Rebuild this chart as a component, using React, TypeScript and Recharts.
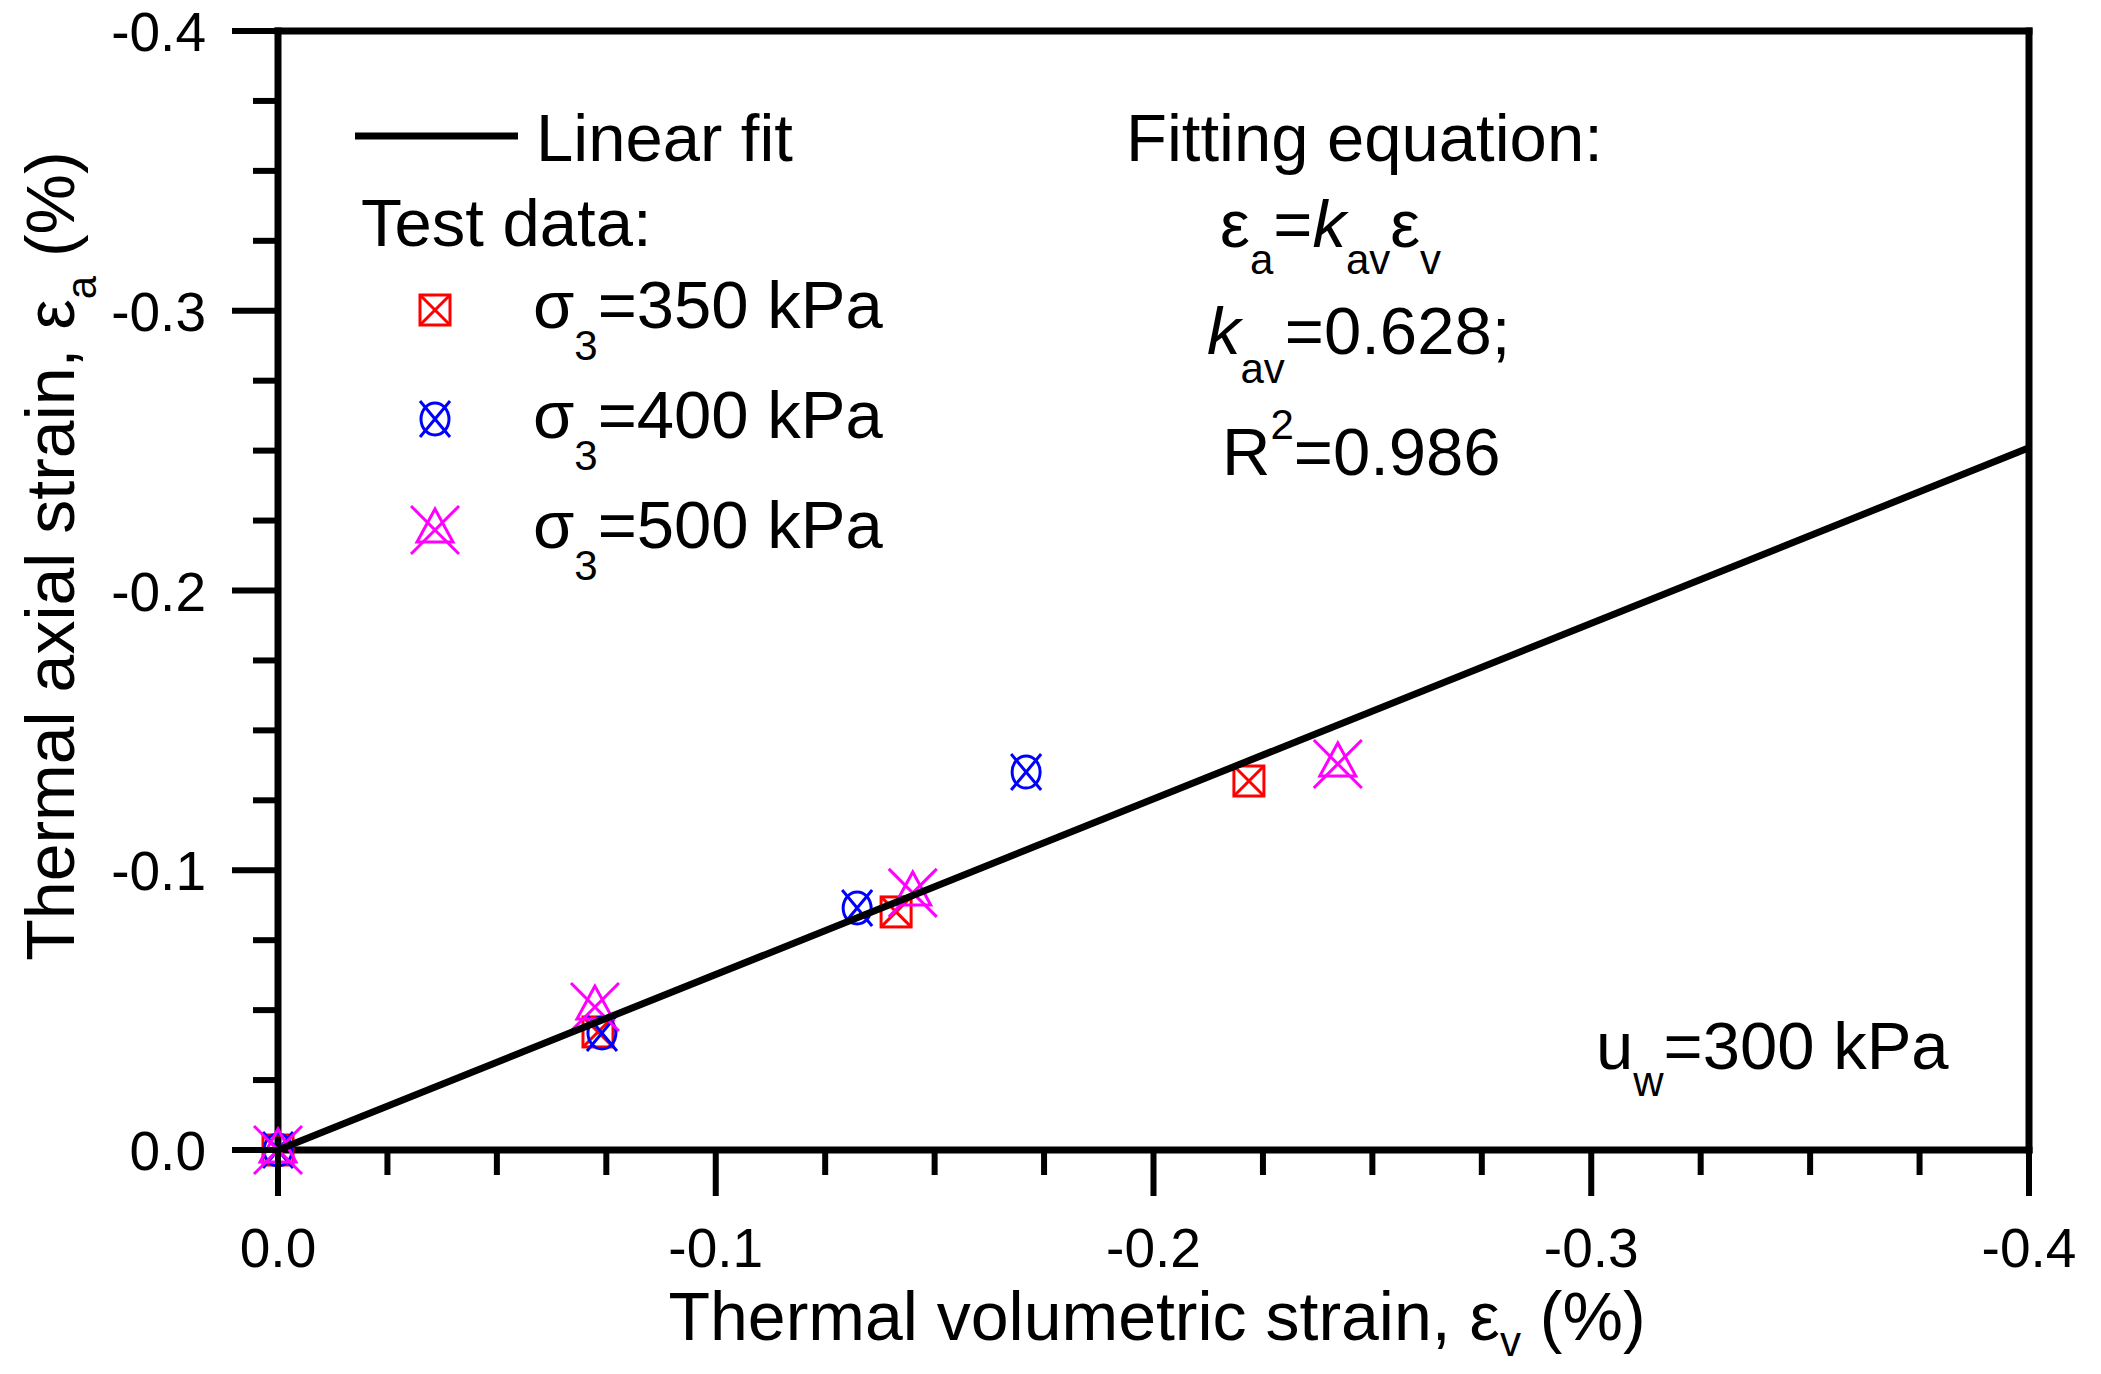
import { ScatterChart, Scatter, XAxis, YAxis } from 'recharts'

const FONT = '"Liberation Sans", Arial, Helvetica, sans-serif'

// axis ticks (every 0.025, labelled every 0.1)
const axisTicks = [0, -0.025, -0.05, -0.075, -0.1, -0.125, -0.15, -0.175, -0.2, -0.225, -0.25, -0.275, -0.3, -0.325, -0.35, -0.375, -0.4]
const tickLabels = ['0.0', '-0.1', '-0.2', '-0.3', '-0.4']

// test data: thermal volumetric strain (x) vs thermal axial strain (y), %
const ev350 = [0, -0.0731, -0.1412, -0.2218]
const ea350 = [0, -0.0422, -0.0851, -0.1319]
const ev400 = [0, -0.074, -0.1323, -0.1709]
const ea400 = [0, -0.0418, -0.0865, -0.1351]
const ev500 = [0, -0.0724, -0.145, -0.2421]
const ea500 = [0, -0.0511, -0.0919, -0.138]

// linear fit ends
const fitEv = [0, -0.4]
const fitEa = [0, -0.251]

function toPoints(xs: number[], ys: number[]) {
  return xs.map(function (x, i) {
    return { x: x, y: ys[i] }
  })
}

const MAJOR = 46
const MINOR = 25
const TICK_W = 6
const TICK_FONT = 55

function isMajor(v: number) {
  return Math.abs(v * 10 - Math.round(v * 10)) < 1e-6
}

function labelFor(v: number) {
  return tickLabels[Math.round(Math.abs(v) * 10)]
}

function BottomTick(props: any) {
  const { x, y, payload } = props
  const major = isMajor(payload.value)
  return (
    <g>
      <line x1={x} x2={x} y1={y} y2={y + (major ? MAJOR : MINOR)} stroke="#000" strokeWidth={TICK_W} />
      {major && (
        <text x={x} y={y + 117} textAnchor="middle" fontSize={TICK_FONT} fontFamily={FONT} fill="#000">
          {labelFor(payload.value)}
        </text>
      )}
    </g>
  )
}

function TopTick(props: any) {
  const { x, y, payload } = props
  const major = isMajor(payload.value)
  return <line x1={x} x2={x} y1={y} y2={y + (major ? MAJOR : MINOR)} stroke="#000" strokeWidth={TICK_W} />
}

function LeftTick(props: any) {
  const { x, y, payload } = props
  const major = isMajor(payload.value)
  return (
    <g>
      <line x1={x} x2={x - (major ? MAJOR : MINOR)} y1={y} y2={y} stroke="#000" strokeWidth={TICK_W} />
      {major && (
        <text x={x - 72} y={y + 20} textAnchor="end" fontSize={TICK_FONT} fontFamily={FONT} fill="#000">
          {labelFor(payload.value)}
        </text>
      )}
    </g>
  )
}

function RightTick(props: any) {
  const { x, y, payload } = props
  const major = isMajor(payload.value)
  return <line x1={x} x2={x - (major ? MAJOR : MINOR)} y1={y} y2={y} stroke="#000" strokeWidth={TICK_W} />
}

function SquareX(props: any) {
  const { cx, cy } = props
  const h = 15
  return (
    <g stroke="#ff0000" strokeWidth={3} fill="none">
      <rect x={cx - h} y={cy - h} width={h * 2} height={h * 2} />
      <line x1={cx - h} y1={cy - h} x2={cx + h} y2={cy + h} />
      <line x1={cx + h} y1={cy - h} x2={cx - h} y2={cy + h} />
    </g>
  )
}

function CircleX(props: any) {
  const { cx, cy } = props
  return (
    <g stroke="#0000ff" strokeWidth={3} fill="none">
      <ellipse cx={cx} cy={cy} rx={14} ry={16} />
      <line x1={cx - 15} y1={cy - 18} x2={cx + 15} y2={cy + 18} />
      <line x1={cx + 15} y1={cy - 18} x2={cx - 15} y2={cy + 18} />
    </g>
  )
}

function TriangleX(props: any) {
  const { cx, cy } = props
  return (
    <g stroke="#ff00ff" strokeWidth={3} fill="none">
      <polygon points={`${cx},${cy - 21} ${cx - 18},${cy + 12} ${cx + 18},${cy + 12}`} />
      <line x1={cx - 24} y1={cy - 24} x2={cx + 24} y2={cy + 24} />
      <line x1={cx + 24} y1={cy - 24} x2={cx - 24} y2={cy + 24} />
    </g>
  )
}

const axisLine = { stroke: '#000', strokeWidth: 7, strokeLinecap: 'square' as const }
const TXT = 67
const SUB = 42

function Overlay() {
  return (
    <svg width={2101} height={1374} style={{ position: 'absolute', left: 0, top: 0, pointerEvents: 'none' }}
      fontFamily={FONT} fill="#000">
      {/* legend */}
      <line x1={355} x2={518} y1={136} y2={136} stroke="#000" strokeWidth={7} />
      <text x={536} y={161} fontSize={TXT}>Linear fit</text>
      <text x={361} y={246} fontSize={TXT}>Test data:</text>
      <SquareX cx={435} cy={310} />
      <CircleX cx={435} cy={419} />
      <TriangleX cx={435} cy={530} />
      <text x={533} y={328} fontSize={TXT}>σ<tspan fontSize={SUB} dy={32}>3</tspan><tspan dy={-32}>=350 kPa</tspan></text>
      <text x={533} y={438} fontSize={TXT}>σ<tspan fontSize={SUB} dy={32}>3</tspan><tspan dy={-32}>=400 kPa</tspan></text>
      <text x={533} y={548} fontSize={TXT}>σ<tspan fontSize={SUB} dy={32}>3</tspan><tspan dy={-32}>=500 kPa</tspan></text>

      {/* fitting equation */}
      <text x={1126} y={161} fontSize={TXT}>Fitting equation:</text>
      <text x={1220} y={247} fontSize={TXT}>
        ε<tspan fontSize={SUB} dy={27}>a</tspan>
        <tspan dy={-27}>=</tspan><tspan fontStyle="italic">k</tspan>
        <tspan fontSize={SUB} dy={27}>av</tspan>
        <tspan dy={-27}>ε</tspan>
        <tspan fontSize={SUB} dy={27}>v</tspan>
      </text>
      <text x={1207} y={354} fontSize={TXT}>
        <tspan fontStyle="italic">k</tspan>
        <tspan fontSize={SUB} dy={29}>av</tspan>
        <tspan dy={-29}>=0.628;</tspan>
      </text>
      <text x={1222} y={475} fontSize={TXT}>
        R<tspan fontSize={SUB} dy={-36}>2</tspan>
        <tspan dy={36}>=0.986</tspan>
      </text>

      <text x={1596} y={1069} fontSize={TXT}>
        u<tspan fontSize={SUB} dy={27}>w</tspan>
        <tspan dy={-27}>=300 kPa</tspan>
      </text>

      {/* axis titles */}
      <text x={1157} y={1340} fontSize={68} textAnchor="middle">
        Thermal volumetric strain, ε<tspan fontSize={SUB} dy={16}>v</tspan>
        <tspan dy={-16}> (%)</tspan>
      </text>
      <text transform="translate(74,556) rotate(-90)" fontSize={68} textAnchor="middle">
        Thermal axial strain, ε<tspan fontSize={SUB} dy={22}>a</tspan>
        <tspan dy={-22}> (%)</tspan>
      </text>
    </svg>
  )
}

export default function App() {
  return (
    <div style={{ position: 'absolute', left: 0, top: 0, width: 2101, height: 1374, background: '#fff' }}>
      <ScatterChart width={2101} height={1374} margin={{ top: 1, right: 42, bottom: 124, left: 178 }}>
        <XAxis
          xAxisId="b"
          type="number"
          dataKey="x"
          domain={[-0.4, 0]}
          reversed
          ticks={axisTicks}
          interval={0}
          height={100}
          tickSize={0}
          tickMargin={0}
          tickLine={false}
          axisLine={axisLine}
          tick={BottomTick}
        />
        <XAxis
          xAxisId="t"
          orientation="top"
          type="number"
          dataKey="x"
          domain={[-0.4, 0]}
          reversed
          ticks={axisTicks}
          interval={0}
          height={30}
          tickSize={0}
          tickMargin={0}
          tickLine={false}
          axisLine={axisLine}
          tick={TopTick}
        />
        <YAxis
          yAxisId="l"
          type="number"
          dataKey="y"
          domain={[-0.4, 0]}
          reversed
          ticks={axisTicks}
          interval={0}
          width={100}
          tickSize={0}
          tickMargin={0}
          tickLine={false}
          axisLine={axisLine}
          tick={LeftTick}
        />
        <YAxis
          yAxisId="r"
          orientation="right"
          type="number"
          dataKey="y"
          domain={[-0.4, 0]}
          reversed
          ticks={axisTicks}
          interval={0}
          width={30}
          tickSize={0}
          tickMargin={0}
          tickLine={false}
          axisLine={axisLine}
          tick={RightTick}
        />
        <Scatter xAxisId="b" yAxisId="l" data={toPoints(ev350, ea350)} shape={SquareX} isAnimationActive={false} />
        <Scatter xAxisId="b" yAxisId="l" data={toPoints(ev400, ea400)} shape={CircleX} isAnimationActive={false} />
        <Scatter xAxisId="b" yAxisId="l" data={toPoints(ev500, ea500)} shape={TriangleX} isAnimationActive={false} />
        <Scatter
          xAxisId="b"
          yAxisId="l"
          data={toPoints(fitEv, fitEa)}
          line={{ stroke: '#000', strokeWidth: 7 }}
          shape={function () { return <g /> }}
          isAnimationActive={false}
        />
      </ScatterChart>
      <Overlay />
    </div>
  )
}
